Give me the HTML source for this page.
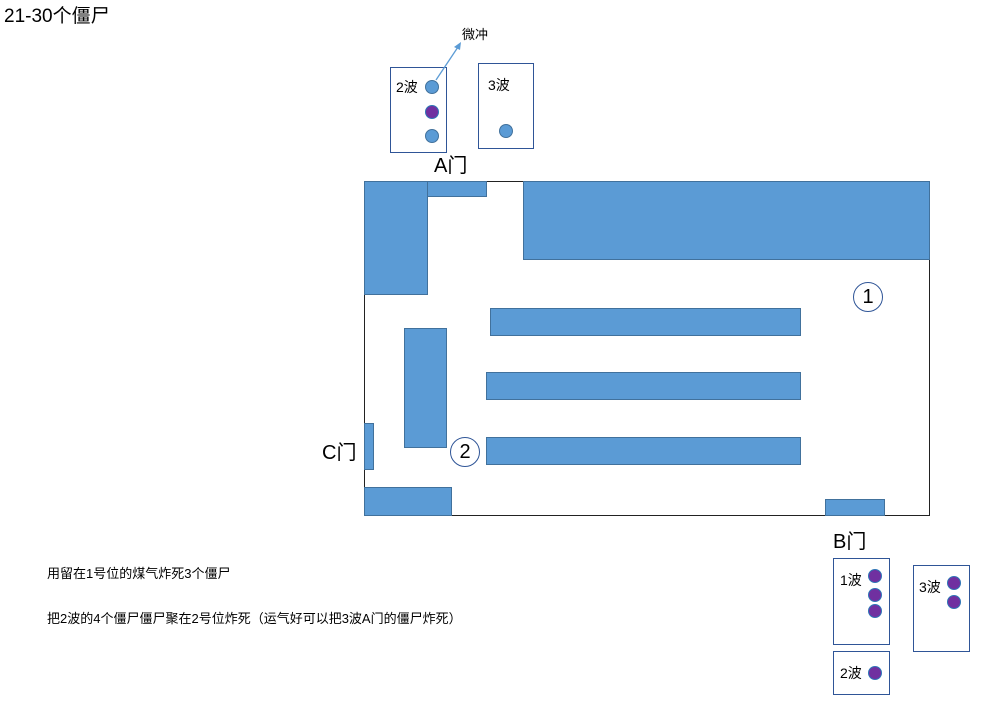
<!DOCTYPE html>
<html><head><meta charset="utf-8"><style>
body{margin:0;width:993px;height:714px;background:#fff;position:relative;overflow:hidden;font-family:"Liberation Sans","Noto Sans CJK SC",sans-serif;color:#000}
.a{position:absolute;box-sizing:border-box}
.b{background:#5b9bd5;border:1px solid #41719c}
.bx{border:1.5px solid #2f5597;background:#fff}
.d{position:absolute;width:14px;height:14px;border-radius:50%;background:#5b9bd5;border:1px solid #41719c;box-sizing:border-box;transform:translate(-7px,-7px)}
.p{background:#7030a0;border-color:#2e75b6}
.t{position:absolute;white-space:nowrap}
.c{position:absolute;width:30px;height:30px;border:1px solid #2f5597;border-radius:50%;box-sizing:border-box;text-align:center;line-height:28px;font-size:20px;background:#fff}
</style></head><body>
<div class="t" style="left:4px;top:1px;font-size:19px">21-30个僵尸</div>

<div class="a" style="left:364px;top:181px;width:566px;height:335px;border:1px solid #222"></div>
<div class="a b" style="left:364px;top:181px;width:64px;height:114px"></div>
<div class="a b" style="left:427px;top:181px;width:60px;height:16px"></div>
<div class="a b" style="left:523px;top:181px;width:407px;height:79px"></div>
<div class="a b" style="left:404px;top:328px;width:43px;height:120px"></div>
<div class="a b" style="left:490px;top:308px;width:311px;height:28px"></div>
<div class="a b" style="left:486px;top:372px;width:315px;height:28px"></div>
<div class="a b" style="left:486px;top:437px;width:315px;height:28px"></div>
<div class="a b" style="left:364px;top:423px;width:10px;height:47px"></div>
<div class="a b" style="left:364px;top:487px;width:88px;height:29px"></div>
<div class="a b" style="left:825px;top:499px;width:60px;height:17px"></div>
<div class="c" style="left:853px;top:282px">1</div>
<div class="c" style="left:450px;top:437px">2</div>

<div class="t" style="left:434px;top:149px;font-size:20px">A门</div>
<div class="t" style="left:322px;top:436px;font-size:20px">C门</div>
<div class="t" style="left:833px;top:525px;font-size:20px">B门</div>

<div class="a bx" style="left:390px;top:67px;width:57px;height:86px"></div>
<div class="t" style="left:396px;top:77px;font-size:14px">2波</div>
<div class="a bx" style="left:478px;top:63px;width:56px;height:86px"></div>
<div class="t" style="left:488px;top:75px;font-size:14px">3波</div>
<div class="d" style="left:432px;top:87px"></div>
<div class="d p" style="left:432px;top:112px"></div>
<div class="d" style="left:432px;top:136px"></div>
<div class="d" style="left:506px;top:131px"></div>
<svg class="a" style="left:0;top:0" width="993" height="714"><line x1="436" y1="80" x2="458" y2="47" stroke="#5b9bd5" stroke-width="1.3"/><polygon points="461,42 454,47 460,50" fill="#5b9bd5"/></svg>
<div class="t" style="left:462px;top:24px;font-size:13px">微冲</div>

<div class="a bx" style="left:833px;top:558px;width:57px;height:87px"></div>
<div class="t" style="left:840px;top:570px;font-size:14px">1波</div>
<div class="a bx" style="left:913px;top:565px;width:57px;height:87px"></div>
<div class="t" style="left:919px;top:577px;font-size:14px">3波</div>
<div class="a bx" style="left:833px;top:651px;width:57px;height:44px"></div>
<div class="t" style="left:840px;top:663px;font-size:14px">2波</div>
<div class="d p" style="left:875px;top:576px"></div>
<div class="d p" style="left:875px;top:595px"></div>
<div class="d p" style="left:875px;top:611px"></div>
<div class="d p" style="left:954px;top:583px"></div>
<div class="d p" style="left:954px;top:602px"></div>
<div class="d p" style="left:875px;top:673px"></div>

<div class="t" style="left:47px;top:563px;font-size:13px">用留在1号位的煤气炸死3个僵尸</div>
<div class="t" style="left:47px;top:608px;font-size:13px">把2波的4个僵尸僵尸聚在2号位炸死（运气好可以把3波A门的僵尸炸死）</div>
</body></html>
